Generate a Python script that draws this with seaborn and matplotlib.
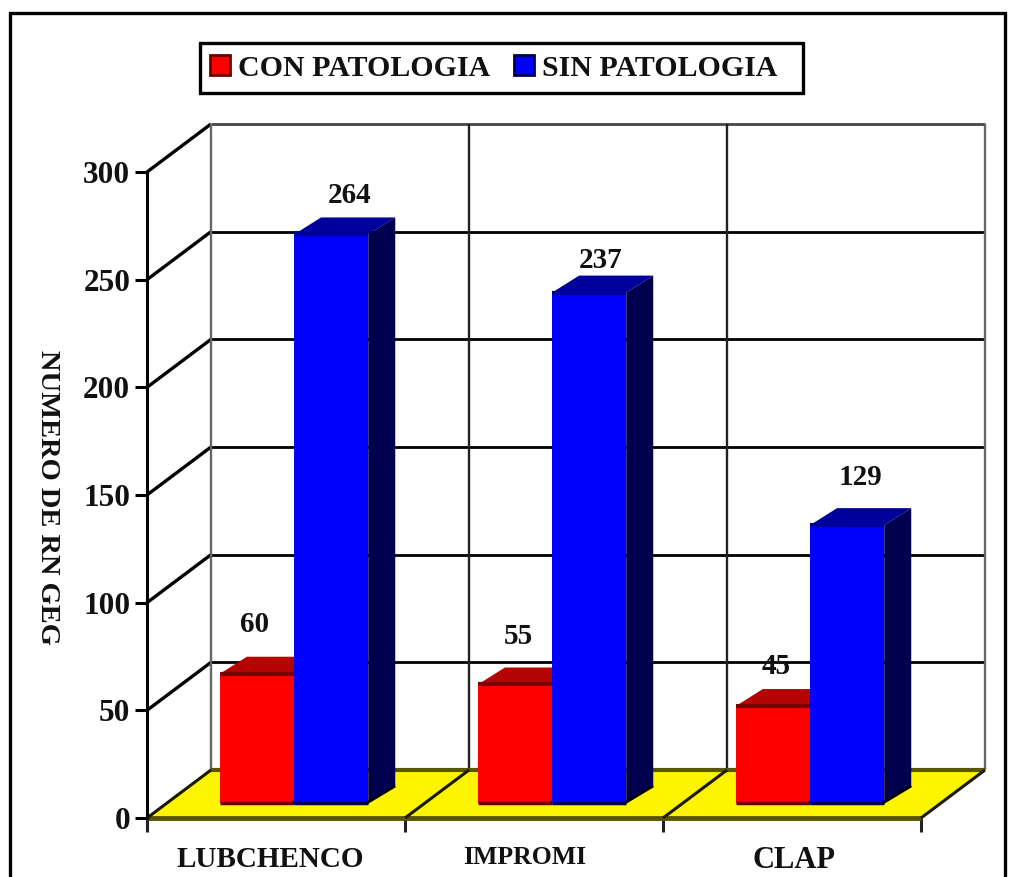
import numpy as np
import pandas as pd
import matplotlib
matplotlib.use('Agg')
import matplotlib.pyplot as plt
import seaborn as sns
from matplotlib.patches import Patch, Polygon, Rectangle
from matplotlib.transforms import ScaledTranslation

# chart data
categories = ['LUBCHENCO', 'IMPROMI', 'CLAP']
con_patologia = [60, 55, 45]
sin_patologia = [264, 237, 129]
series_names = ['CON PATOLOGIA', 'SIN PATOLOGIA']
y_ticks = [0, 50, 100, 150, 200, 250, 300]
y_label = 'NUMERO DE RN GEG'

# colours
RED, RED_TOP, RED_EDGE = '#fe0000', '#b40404', '#6a0000'
BLUE, BLUE_TOP, BLUE_SIDE = '#0000fe', '#00009a', '#00004e'
YELLOW, OLIVE = '#fdf500', '#5a5500'

W, H = 1017, 877
sns.set_theme(style='white')
plt.rcParams['font.family'] = ['Liberation Serif', 'DejaVu Serif']
plt.rcParams['font.weight'] = 'bold'

fig = plt.figure(figsize=(W / 100, H / 100), dpi=100, facecolor='white')
ax = fig.add_axes([147 / W, 1 - 818 / H, 774 / W, 646 / H])
ax.set_facecolor('none')

df = pd.DataFrame({
    'cat': categories * 2,
    'value': con_patologia + sin_patologia,
    'serie': [series_names[0]] * 3 + [series_names[1]] * 3,
})

# front faces of the bars, raised onto the floor and pushed back
FLOOR_LIFT = 7.0
BAR_SHIFT = 0.07
sns.barplot(data=df, x='cat', y='value', hue='serie', hue_order=series_names,
            order=categories, palette=[RED, BLUE], width=0.575, gap=0,
            dodge=True, legend=False, bottom=FLOOR_LIFT, saturation=1,
            linewidth=0, ax=ax, zorder=4)
bars = list(ax.patches)

ax.set_xlim(-0.5, 2.5)
ax.set_ylim(0, 300)

# depth of the fake 3D box, in data units
DX, DY = 64 / 258, 48 / 2.153
BX, BY = 27 / 258, 17 / 2.153

# back wall and grid
trans_kw = dict(clip_on=False, solid_capstyle='butt')
edges = np.arange(-0.5, 3.0, 1.0)
for t in y_ticks[1:]:
    ax.plot([-0.5, -0.5 + DX], [t, t + DY], color='black', lw=2.4, zorder=1, **trans_kw)
    col = '#444444' if t == 300 else 'black'
    ax.plot([-0.5 + DX, 2.5 + DX], [t + DY, t + DY], color=col, lw=2.0, zorder=1, **trans_kw)
for i, e in enumerate(edges):
    col = '#666666' if i in (0, 3) else '#222222'
    ax.plot([e + DX, e + DX], [DY, 300 + DY], color=col, lw=1.7, zorder=1, **trans_kw)

# yellow floor
ax.add_patch(Polygon([(-0.5, 0), (2.5, 0), (2.5 + DX, DY), (-0.5 + DX, DY)],
                     closed=True, facecolor=YELLOW, edgecolor='none', zorder=2, clip_on=False))
ax.plot([-0.5 + DX, 2.5 + DX], [DY, DY], color=OLIVE, lw=3, zorder=2, **trans_kw)
ax.plot([-0.5, 2.5], [0, 0], color=OLIVE, lw=3.5, zorder=2, **trans_kw)
for e in edges:
    ax.plot([e, e + DX], [0, DY], color='#1c1a00', lw=2.2, zorder=2.5, **trans_kw)

# top and side faces built from the seaborn bars
for k, bar in enumerate(bars):
    is_blue = k >= len(categories)
    bar.set_x(bar.get_x() + BAR_SHIFT)
    bar.set_clip_on(False)
    x0, x1 = bar.get_x(), bar.get_x() + bar.get_width()
    y0, y1 = bar.get_y(), bar.get_y() + bar.get_height()
    z = 4 if is_blue else 3
    bar.set_zorder(z)
    top_col = BLUE_TOP if is_blue else RED_TOP
    side_col = BLUE_SIDE if is_blue else RED_EDGE
    rim_col = BLUE_TOP if is_blue else '#7c0000'
    ax.add_patch(Polygon([(x0, y1), (x1, y1), (x1 + BX, y1 + BY), (x0 + BX, y1 + BY)],
                         closed=True, facecolor=top_col, edgecolor='none', zorder=z, clip_on=False))
    ax.add_patch(Polygon([(x1, y0), (x1 + BX, y0 + BY), (x1 + BX, y1 + BY), (x1, y1)],
                         closed=True, facecolor=side_col, edgecolor='none', zorder=z, clip_on=False))
    # dark rim along the top and bottom of the front
    ax.plot([x0, x1], [y1, y1], color=rim_col, lw=3, zorder=z + 0.1, **trans_kw)
    ax.plot([x0, x1], [y0, y0], color=BLUE_SIDE if is_blue else RED_EDGE, lw=2.5, zorder=z + 0.1, **trans_kw)
    ax.plot([x1 - 0.005, x1 + BX], [y0, y0 + BY], color='black', lw=2, zorder=z + 0.1, **trans_kw)

# value labels (pixel nudges from each bar's top)
label_dx = [-2, 3, 3, 18, 11, 13]
label_dy = [49, 48, 40, 39, 32, 48]
pairs = list(zip(bars, con_patologia + sin_patologia, label_dx, label_dy))
for bar, val, ldx, ldy in pairs:
    ax.annotate(str(val), (bar.get_x() + bar.get_width() / 2, bar.get_y() + bar.get_height()),
                xytext=(ldx * 0.72, ldy * 0.72), textcoords='offset points',
                ha='center', va='center', fontsize=21, fontweight='bold', color='#111111',
                zorder=6, annotation_clip=False)

# axes
sns.despine(ax=ax, left=False, bottom=True, right=True, top=True)
ax.spines['left'].set_color('black')
ax.spines['left'].set_linewidth(2.2)
ax.set_yticks(y_ticks)
ax.set_yticklabels([str(t) for t in y_ticks], fontsize=22.5, fontweight='bold', color='#111111')
ax.tick_params(axis='y', length=9, width=2.2, color='black', pad=3, left=True)
ax.set_xticks(range(len(categories)))
ax.set_xticklabels(categories, fontsize=21, fontweight='bold', color='#111111')
ax.set_xticks(edges, minor=True)
ax.tick_params(axis='x', which='major', length=0, pad=20)
ax.tick_params(axis='x', which='minor', length=10, width=2.2, color='#222222', bottom=True)
for lab, nudge, size in zip(ax.get_xticklabels(), [-6, -9, 2], [21, 18.5, 22]):
    lab.set_fontsize(size)
    lab.set_transform(lab.get_transform() + ScaledTranslation(nudge / 100, 0, fig.dpi_scale_trans))
ax.set_xlabel('')
ax.set_ylabel('')
fig.text(47 / W, 1 - 497 / H, y_label, rotation=270, ha='center', va='center',
         fontsize=20.5, fontweight='bold', color='#111111')

# legend box is drawn apart because its right margin is wider than the left one
fig.add_artist(Rectangle((200 / W, 1 - 93 / H), 603 / W, 50 / H, transform=fig.transFigure,
                         facecolor='white', edgecolor='black', lw=2.4))
handles = [Patch(facecolor=RED, edgecolor=RED_EDGE, lw=2),
           Patch(facecolor=BLUE, edgecolor=BLUE_SIDE, lw=2)]
leg = fig.legend(handles, series_names, ncol=2, loc='center left', bbox_to_anchor=(210 / W, 1 - 68 / H),
                 frameon=False,
                 prop={'family': 'Liberation Serif', 'weight': 'bold', 'size': 21.5},
                 handlelength=0.68, handleheight=0.68, handletextpad=0.27, columnspacing=0.77,
                 borderpad=0, borderaxespad=0)
for txt in leg.get_texts():
    txt.set_color('#111111')

# outer frame, runs off the bottom of the picture
fig.add_artist(Rectangle((10 / W, -0.02), 995 / W, 1.02 - 13 / H, transform=fig.transFigure,
                         facecolor='none', edgecolor='black', lw=2.4))

fig.savefig('out.png', dpi=100)
plt.close(fig)
